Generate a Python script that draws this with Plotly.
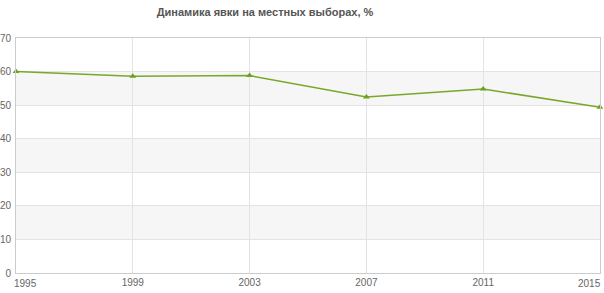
import plotly.graph_objects as go

years = [1995, 1999, 2003, 2007, 2011, 2015]
turnout = [60.0, 58.6, 58.8, 52.4, 54.8, 49.4]
y_ticks = [0, 10, 20, 30, 40, 50, 60, 70]
shaded_bands = [(10, 20), (30, 40), (50, 60)]
title_text = "Динамика явки на местных выборах, %"

fig = go.Figure()
fig.add_trace(go.Scatter(
    x=years, y=turnout, mode="lines+markers",
    line=dict(color="#78a82a", width=1.5),
    marker=dict(symbol="triangle-up", size=6, color="#6ea21e"),
    hoverinfo="x+y", cliponaxis=False,
))

shapes = []
for lo, hi in shaded_bands:
    shapes.append(dict(type="rect", xref="paper", yref="y", x0=0, x1=1, y0=lo, y1=hi,
                       fillcolor="#f6f6f6", line=dict(width=0), layer="below"))

tickfont = dict(family="Liberation Sans, Arial, sans-serif", size=10, color="#666666")
ticktext = [str(y) if y not in (years[0], years[-1]) else "" for y in years]
annotations = [
    dict(x=years[0], y=0, xref="x", yref="paper", text=str(years[0]), showarrow=False,
         xanchor="left", yanchor="top", xshift=-4, yshift=-3, font=tickfont),
    dict(x=years[-1], y=0, xref="x", yref="paper", text=str(years[-1]), showarrow=False,
         xanchor="right", yanchor="top", xshift=3, yshift=-3, font=tickfont),
]

fig.update_layout(
    width=604, height=293,
    margin=dict(l=16, r=4, t=38, b=20),
    paper_bgcolor="white", plot_bgcolor="white",
    showlegend=False,
    title=dict(text="<b>" + title_text + "</b>", x=265 / 604, xanchor="center", xref="container",
               y=1 - 12 / 293, yanchor="middle", yref="container",
               font=dict(family="Liberation Sans, Arial, sans-serif", size=11, color="#555555")),
    shapes=shapes,
    annotations=annotations,
    xaxis=dict(range=[years[0], years[-1]], tickvals=years, ticktext=ticktext,
               showgrid=True, gridcolor="#e3e3e3", gridwidth=1,
               showline=True, linecolor="#cccccc", linewidth=1, mirror=True,
               ticks="", tickfont=tickfont, zeroline=False, automargin=False),
    yaxis=dict(range=[0, 70], tickvals=y_ticks, showgrid=True, gridcolor="#e3e3e3", gridwidth=1,
               showline=True, linecolor="#cccccc", linewidth=1, mirror=True,
               ticks="", tickfont=tickfont, zeroline=False, automargin=False,
               ticklabelstandoff=2),
)

fig.write_html("out.html")
